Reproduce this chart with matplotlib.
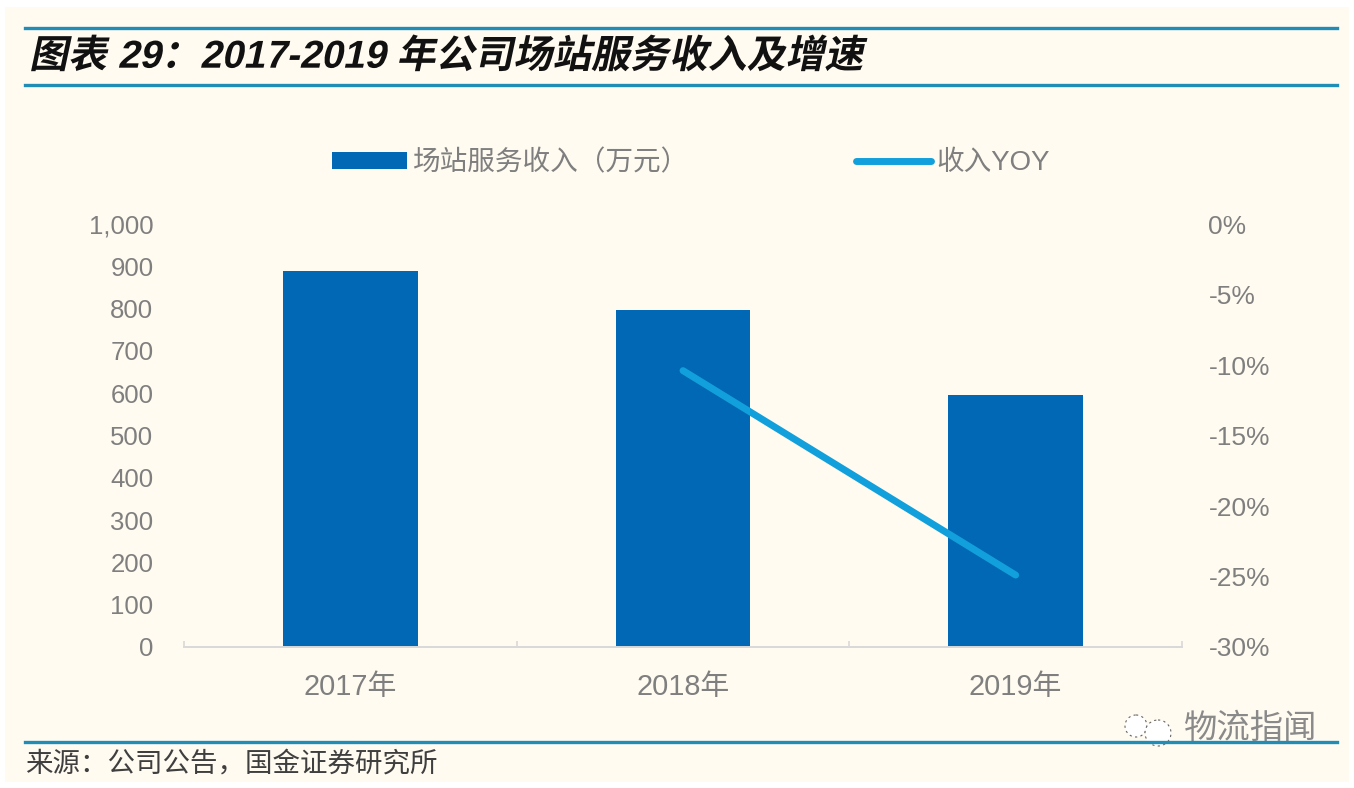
import numpy as np
import matplotlib
matplotlib.use('Agg')
import matplotlib.pyplot as plt
from matplotlib.lines import Line2D
from matplotlib.patches import Circle, Rectangle
from matplotlib.patheffects import AbstractPathEffect
from matplotlib.transforms import Affine2D

years = ['2017年', '2018年', '2019年']
revenue = [888, 797, 596]
yoy = [np.nan, -10.4, -24.9]
left_ticks = list(range(0, 1001, 100))
right_ticks = [-30, -25, -20, -15, -10, -5, 0]

W, H = 1354, 788
BG = '#FFFBF0'
BAR = '#0068B4'
LINE = '#12A0DC'
RULE = '#1F8DB5'
GREY = '#7F7F7F'

plt.rcParams['font.family'] = ['Liberation Sans', 'Noto Sans CJK SC', 'DejaVu Sans']


class Skew(AbstractPathEffect):
    # CJK fonts have no italic, so slant the glyph paths
    def __init__(self, deg):
        super().__init__()
        self.deg = deg

    def draw_path(self, renderer, gc, tpath, affine, rgbFace=None):
        renderer.draw_path(gc, tpath, Affine2D().skew_deg(self.deg, 0) + affine, rgbFace)


def fx(px):
    return px / W


def fy(px):
    return 1 - px / H


fig = plt.figure(figsize=(W / 100, H / 100), dpi=100, facecolor='white')
fig.patches.append(Rectangle((fx(5), fy(782)), fx(1349 - 5), (782 - 7) / H, transform=fig.transFigure,
                             facecolor=BG, edgecolor='none', zorder=-5))

# 1. 주 차트
ax = fig.add_axes([fx(184), fy(647), fx(1182 - 184), (647 - 224) / H])
ax.patch.set_alpha(0)
x = np.arange(len(years))
ax.bar(x, revenue, width=0.405, color=BAR, zorder=2)
ax.set_xlim(-0.5, 2.5)
ax.set_ylim(0, 1000)
ax.set_yticks(left_ticks)
ax.set_yticklabels([f'{v:,}' for v in left_ticks], fontsize=18.5, color=GREY)
ax.set_xticks(x)
ax.set_xticklabels(years, fontsize=20.8, color=GREY)
ax.set_xticks([-0.5, 0.5, 1.5, 2.5], minor=True)
ax.tick_params(axis='y', length=0, pad=22)
ax.tick_params(axis='x', which='major', length=0, pad=18.5)
ax.tick_params(axis='x', which='minor', direction='in', length=4, color='#D9D9D9', width=1.2)
for s in ['top', 'left', 'right']:
    ax.spines[s].set_visible(False)
ax.spines['bottom'].set_color('#D9D9D9')
ax.spines['bottom'].set_linewidth(1.4)

ax2 = ax.twinx()
ax2.patch.set_alpha(0)
ax2.plot(x, yoy, color=LINE, lw=5, solid_capstyle='round', zorder=3)
ax2.set_ylim(-30, 0)
ax2.set_yticks(right_ticks)
ax2.set_yticklabels([f'{v}%' for v in right_ticks], fontsize=19, color=GREY)
ax2.tick_params(axis='y', length=0, pad=19)
for s in ax2.spines.values():
    s.set_visible(False)

# 2. 범례
handles = [Rectangle((0, 0), 1, 1, facecolor=BAR, edgecolor='none'),
           Line2D([0], [0], color=LINE, lw=5, solid_capstyle='round')]
fig.legend(handles, ['场站服务收入（万元）', '收入YOY'], ncol=2, frameon=False, fontsize=19.9,
           labelcolor=GREY, loc='center left', bbox_to_anchor=(fx(333 - 9), fy(163)),
           handlelength=2.7, handleheight=0.6, handletextpad=0.2, columnspacing=6.05,
           borderpad=0.3, borderaxespad=0)

# 3. 제목, 출처, 구분선
for y in [28, 85, 742]:
    fig.add_artist(Line2D([fx(25), fx(1337)], [fy(y), fy(y)], color=RULE, lw=2.4))
title = fig.text(fx(29), fy(57), '图表 29：2017-2019 年公司场站服务收入及增速', fontsize=28, fontweight='bold',
                 color='#111111', va='center', ha='left')
title.set_path_effects([Skew(12)])
fig.text(fx(25), fy(765), '来源：公司公告，国金证券研究所', fontsize=19.8, color='#3F3F3F', va='center', ha='left')

# 4. 워터마크
wm = fig.add_axes([0, 0, 1, 1])
wm.set_xlim(0, W)
wm.set_ylim(H, 0)
wm.axis('off')
wm.add_patch(Circle((1136, 726), 11, facecolor='white', edgecolor='#666666', lw=0.8, ls=(0, (2, 3))))
wm.add_patch(Circle((1158, 733), 13, facecolor='white', edgecolor='#666666', lw=0.8, ls=(0, (2, 3))))
wm.text(1250, 729, '物流指闻', fontsize=24, color='#8A8A8A', ha='center', va='center')

fig.savefig('out.png', dpi=100, facecolor='white')
